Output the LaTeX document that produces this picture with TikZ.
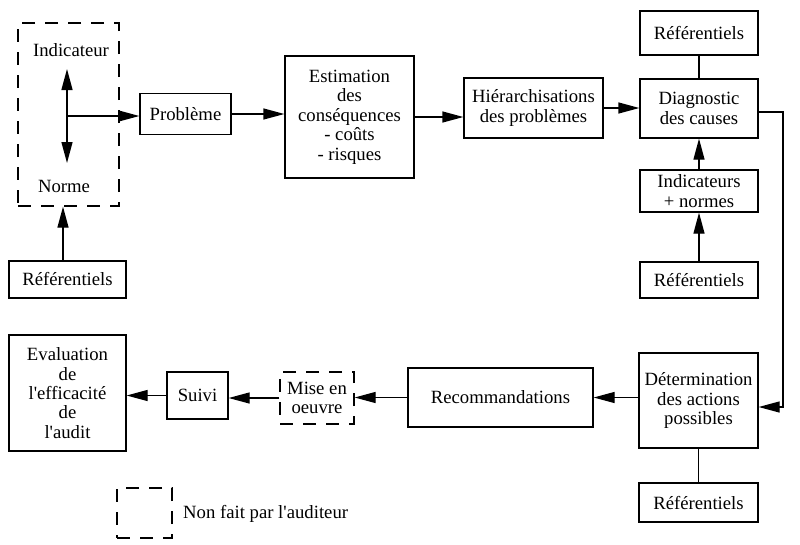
\documentclass[tikz,border=0pt]{standalone}
\usepackage{fontspec}
\setmainfont{Liberation Serif}
\usetikzlibrary{arrows.meta}
\begin{document}
\begin{tikzpicture}[x=1pt,y=-1pt,
  box/.style={draw, line width=1.3pt, inner sep=0pt, align=center, font=\fontsize{18.7}{19.4}\selectfont},
  dbox/.style={box, dash pattern=on 13pt off 10pt},
  arr/.style={line width=1.3pt, -{Triangle[length=21pt,width=11pt]}},
  ln/.style={line width=1.3pt},
  txt/.style={inner sep=0pt, align=center, font=\fontsize{18.7}{19.4}\selectfont}]
\useasboundingbox (0,0) rectangle (800,544);
% left dashed group
\node[dbox, minimum width=101, minimum height=183] (dg) at (68.5,114.5) {};
\node[txt] (ind) at (71,50) {Indicateur};
\node[txt] (norme) at (64,186) {Norme};
\coordinate (X) at (67,116);
\coordinate (up) at (67,69);
\coordinate (dn) at (67,163);
\node[box, minimum width=117, minimum height=37] (refL) at (67.5,279.5) {Référentiels};
% top row
\node[box, minimum width=91, minimum height=41] (prob) at (185.5,114) {Problème};
\node[box, minimum width=129, minimum height=122] (est) at (349.5,117) {Estimation\\des\\conséquences\\- coûts\\- risques};
\node[box, minimum width=139, minimum height=60] (hier) at (533.5,108) {Hiérarchisations\\des problèmes};
\node[box, minimum width=118, minimum height=59] (diag) at (699,108.5) {Diagnostic\\des causes};
\node[box, minimum width=118, minimum height=44] (ref1) at (699,33) {Référentiels};
\node[box, minimum width=118, minimum height=42] (indic) at (699,191) {Indicateurs\\+ normes};
\node[box, minimum width=118, minimum height=36] (ref2) at (699,280) {Référentiels};
% bottom row
\node[box, minimum width=119, minimum height=95] (det) at (698.5,400.5) {Détermination\\des actions\\possibles};
\node[box, minimum width=119, minimum height=39] (ref3) at (698.5,502.5) {Référentiels};
\node[box, minimum width=185, minimum height=59] (rec) at (500.5,397.5) {Recommandations};
\node[dbox, minimum width=74, minimum height=52] (mise) at (317,398) {Mise en\\oeuvre};
\node[box, minimum width=61, minimum height=47] (suivi) at (197.5,395.5) {Suivi};
\node[box, minimum width=117, minimum height=116] (eval) at (67.5,393) {Evaluation\\de\\l\textquotesingle efficacité\\de\\l\textquotesingle audit};
% legend
\node[dbox, minimum width=55, minimum height=50] (leg) at (144.5,513) {};
\node[txt, anchor=west] (legt) at (183,514) {Non fait par l\textquotesingle auditeur};
% connectors
\draw[arr] (X) -- (up);
\draw[arr] (X) -- (dn);
\draw[arr] (X) -- (X -| prob.west);
\draw[arr] ([xshift=-4.5pt]refL.north) -- ([xshift=-4.5pt]refL.north |- dg.south);
\draw[arr] (prob.east) -- (prob.east -| est.west);
\draw[arr] (est.east) -- (est.east -| hier.west);
\draw[arr] (hier.east) -- (hier.east -| diag.west);
\draw[ln] (ref1.south) -- (diag.north);
\draw[arr] (indic.north) -- (diag.south);
\draw[arr] (ref2.north) -- (indic.south);
\coordinate (c1) at (783,112);
\draw[arr] ([yshift=-3.5pt]diag.east) -- (c1) |- ([yshift=-6.5pt]det.east);
\draw[arr] (det.west |- rec.east) -- (rec.east);
\draw[ln] (det.south) -- (ref3.north);
\draw[arr] (rec.west) -- (rec.west -| mise.east);
\draw[arr] (mise.west) -- (mise.west -| suivi.east);
\draw[arr] (suivi.west) -- (suivi.west -| eval.east);
\end{tikzpicture}
\end{document}
